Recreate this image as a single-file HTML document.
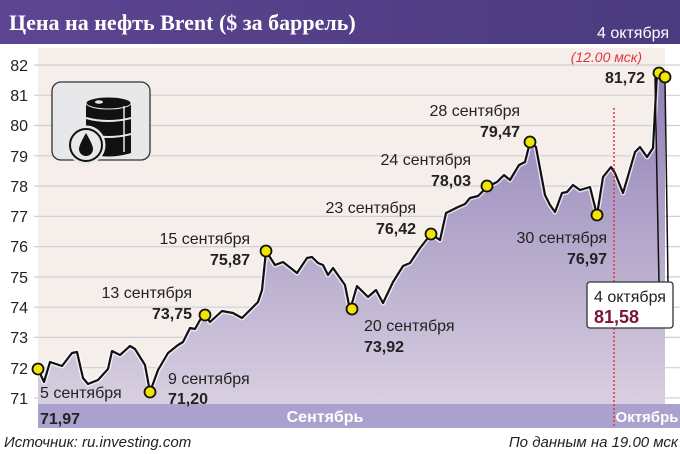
<!DOCTYPE html>
<html><head><meta charset="utf-8"><style>
html,body{margin:0;padding:0;background:#fff}
svg{display:block}
text{font-family:"Liberation Sans Narrow","Liberation Sans",sans-serif}
</style></head><body>
<svg width="680" height="454" viewBox="0 0 680 454" xmlns="http://www.w3.org/2000/svg">
<defs>
<linearGradient id="hd" x1="0" x2="1" y1="0" y2="0"><stop offset="0" stop-color="#5d4592"/><stop offset="1" stop-color="#4a3a7e"/></linearGradient>
<linearGradient id="fl" x1="0" x2="0" y1="0" y2="1"><stop offset="0" stop-color="#8f7fb6"/><stop offset="1" stop-color="#d8cfe0"/></linearGradient>
</defs>
<rect x="0" y="0" width="680" height="44" fill="url(#hd)"/>
<text x="9" y="30" font-size="22" font-weight="bold" fill="#fff" style="font-family:'Liberation Serif',serif">Цена на нефть Brent ($ за баррель)</text>
<text x="669" y="38" text-anchor="end" font-size="16" fill="#fff">4 октября</text>
<rect x="38" y="48" width="627" height="357" fill="#f5eeeb"/>
<text x="642" y="62" text-anchor="end" font-size="14" font-style="italic" fill="#e5343a">(12.00 мск)</text>
<g stroke="#cfcfd6" stroke-width="1.2">
<line x1="34" y1="65" x2="680" y2="65"/><line x1="34" y1="95.3" x2="680" y2="95.3"/><line x1="34" y1="125.5" x2="680" y2="125.5"/><line x1="34" y1="155.8" x2="680" y2="155.8"/><line x1="34" y1="186.1" x2="680" y2="186.1"/><line x1="34" y1="216.4" x2="680" y2="216.4"/><line x1="34" y1="246.6" x2="680" y2="246.6"/><line x1="34" y1="276.9" x2="680" y2="276.9"/><line x1="34" y1="307.2" x2="680" y2="307.2"/><line x1="34" y1="337.4" x2="680" y2="337.4"/><line x1="34" y1="367.7" x2="680" y2="367.7"/><line x1="34" y1="398" x2="680" y2="398"/>
</g>
<g font-size="16" fill="#222" text-anchor="end">
<text x="28" y="71">82</text><text x="28" y="101">81</text><text x="28" y="131">80</text><text x="28" y="162">79</text><text x="28" y="192">78</text><text x="28" y="222">77</text><text x="28" y="252">76</text><text x="28" y="283">75</text><text x="28" y="313">74</text><text x="28" y="343">73</text><text x="28" y="374">72</text><text x="28" y="404">71</text>
</g>
<path fill="url(#fl)" d="M38,369 L44,382 L50,362 L62,366 L72,353 L77,352 L83,378 L88,384 L98,380 L108,369 L112,351 L120,355 L130,346 L135,349 L145,365 L150,392 L158,370 L168,353 L178,345 L183,342 L190,328 L195,329 L200,320 L205,315 L210,322 L222,311 L233,313 L242,318 L253,307 L258,302 L262,290 L266,251 L275,265 L283,262 L297,273 L307,258 L312,257 L318,263 L323,265 L328,275 L333,268 L345,285 L350,310 L357,286 L368,297 L376,290 L383,303 L393,282 L403,266 L410,263 L420,248 L431,234 L440,240 L446,213 L458,207 L465,204 L470,198 L478,196 L487,187 L497,182 L504,175 L510,180 L519,165 L525,162 L530,142 L536,147 L545,195 L550,205 L555,212 L562,193 L567,192 L573,185 L580,190 L590,187 L597,215 L603,177 L611,167 L615,173 L623,193 L635,152 L640,147 L647,157 L653,148 L657,73 L665,77 L665,405 L38,405 Z"/>
<path fill="none" stroke="#fff" stroke-width="5" stroke-linejoin="round" opacity="0.7" d="M38,369 L44,382 L50,362 L62,366 L72,353 L77,352 L83,378 L88,384 L98,380 L108,369 L112,351 L120,355 L130,346 L135,349 L145,365 L150,392 L158,370 L168,353 L178,345 L183,342 L190,328 L195,329 L200,320 L205,315 L210,322 L222,311 L233,313 L242,318 L253,307 L258,302 L262,290 L266,251 L275,265 L283,262 L297,273 L307,258 L312,257 L318,263 L323,265 L328,275 L333,268 L345,285 L350,310 L357,286 L368,297 L376,290 L383,303 L393,282 L403,266 L410,263 L420,248 L431,234 L440,240 L446,213 L458,207 L465,204 L470,198 L478,196 L487,187 L497,182 L504,175 L510,180 L519,165 L525,162 L530,142 L536,147 L545,195 L550,205 L555,212 L562,193 L567,192 L573,185 L580,190 L590,187 L597,215 L603,177 L611,167 L615,173 L623,193 L635,152 L640,147 L647,157 L653,148 L657,73 L665,77"/>
<path fill="none" stroke="#111" stroke-width="2.2" stroke-linejoin="round" d="M38,369 L44,382 L50,362 L62,366 L72,353 L77,352 L83,378 L88,384 L98,380 L108,369 L112,351 L120,355 L130,346 L135,349 L145,365 L150,392 L158,370 L168,353 L178,345 L183,342 L190,328 L195,329 L200,320 L205,315 L210,322 L222,311 L233,313 L242,318 L253,307 L258,302 L262,290 L266,251 L275,265 L283,262 L297,273 L307,258 L312,257 L318,263 L323,265 L328,275 L333,268 L345,285 L350,310 L357,286 L368,297 L376,290 L383,303 L393,282 L403,266 L410,263 L420,248 L431,234 L440,240 L446,213 L458,207 L465,204 L470,198 L478,196 L487,187 L497,182 L504,175 L510,180 L519,165 L525,162 L530,142 L536,147 L545,195 L550,205 L555,212 L562,193 L567,192 L573,185 L580,190 L590,187 L597,215 L603,177 L611,167 L615,173 L623,193 L635,152 L640,147 L647,157 L653,148 L657,73 L665,77"/>
<rect x="38" y="404" width="642" height="24" fill="#aba1cf"/>
<line x1="614" y1="108" x2="614" y2="428" stroke="#e5343a" stroke-width="1.5" stroke-dasharray="2,2"/>
<text x="325" y="422" text-anchor="middle" font-size="16" font-weight="bold" fill="#fff">Сентябрь</text>
<text x="647" y="422" text-anchor="middle" font-size="15" font-weight="bold" fill="#fff">Октябрь</text>
<!-- icon -->
<rect x="52" y="82" width="98" height="78" rx="9" fill="#e8e8ea" stroke="#333" stroke-width="1.3"/>
<path d="M86,103 L86,153 Q108,160 131,153 L131,103 Z" fill="#111"/>
<ellipse cx="108.5" cy="103" rx="22.5" ry="6" fill="#111" stroke="#e8e8ea" stroke-width="1"/>
<ellipse cx="99" cy="102" rx="4" ry="1.8" fill="#e8e8ea"/>
<path d="M86,118 Q108,124 131,118 M86,134 Q108,140 131,134" stroke="#e8e8ea" stroke-width="2" fill="none"/>
<line x1="124" y1="106" x2="124" y2="152" stroke="#e8e8ea" stroke-width="1.5"/>
<circle cx="86" cy="145" r="18" fill="#e8e8ea" stroke="#e8e8ea" stroke-width="3"/>
<circle cx="86" cy="145" r="16" fill="none" stroke="#111" stroke-width="2"/>
<path d="M86,133 Q79,145 79,149 A7,7 0 0 0 93,149 Q93,145 86,133 Z" fill="#111"/>
<!-- callout -->
<path d="M655,78 L659,283 M665,80 L668,283" stroke="#111" stroke-width="1.5" fill="none"/>
<rect x="587" y="282" width="86" height="46" rx="3" fill="#fff" stroke="#333" stroke-width="1.3"/>
<text x="594" y="302" font-size="16" fill="#222">4 октября</text>
<text x="594" y="323" font-size="18" font-weight="bold" fill="#7b1535">81,58</text>
<!-- dots -->
<g fill="#f2e500" stroke="#111" stroke-width="1.8">
<circle cx="38" cy="369" r="5.5"/><circle cx="150" cy="392" r="5.5"/><circle cx="205" cy="315" r="5.5"/><circle cx="266" cy="251" r="5.5"/><circle cx="352" cy="309" r="5.5"/><circle cx="431" cy="234" r="5.5"/><circle cx="487" cy="186" r="5.5"/><circle cx="530" cy="142" r="5.5"/><circle cx="597" cy="215" r="5.5"/><circle cx="659" cy="73" r="5.5"/><circle cx="665" cy="77" r="5.5"/>
</g>
<g font-size="16" fill="#222">
<text x="40" y="398">5 сентября</text><text x="40" y="424" font-weight="bold">71,97</text>
<text x="168" y="384">9 сентября</text><text x="168" y="404" font-weight="bold">71,20</text>
<text x="192" y="298" text-anchor="end">13 сентября</text><text x="192" y="319" text-anchor="end" font-weight="bold">73,75</text>
<text x="250" y="244" text-anchor="end">15 сентября</text><text x="250" y="265" text-anchor="end" font-weight="bold">75,87</text>
<text x="364" y="331">20 сентября</text><text x="364" y="352" font-weight="bold">73,92</text>
<text x="416" y="213" text-anchor="end">23 сентября</text><text x="416" y="234" text-anchor="end" font-weight="bold">76,42</text>
<text x="471" y="165" text-anchor="end">24 сентября</text><text x="471" y="186" text-anchor="end" font-weight="bold">78,03</text>
<text x="520" y="116" text-anchor="end">28 сентября</text><text x="520" y="137" text-anchor="end" font-weight="bold">79,47</text>
<text x="607" y="243" text-anchor="end">30 сентября</text><text x="607" y="264" text-anchor="end" font-weight="bold">76,97</text>
<text x="645" y="83" text-anchor="end" font-weight="bold">81,72</text>
</g>
<text x="4" y="447" font-size="15" font-style="italic" fill="#222">Источник: ru.investing.com</text>
<text x="678" y="447" text-anchor="end" font-size="15" font-style="italic" fill="#222">По данным на 19.00 мск</text>
</svg>
</body></html>
